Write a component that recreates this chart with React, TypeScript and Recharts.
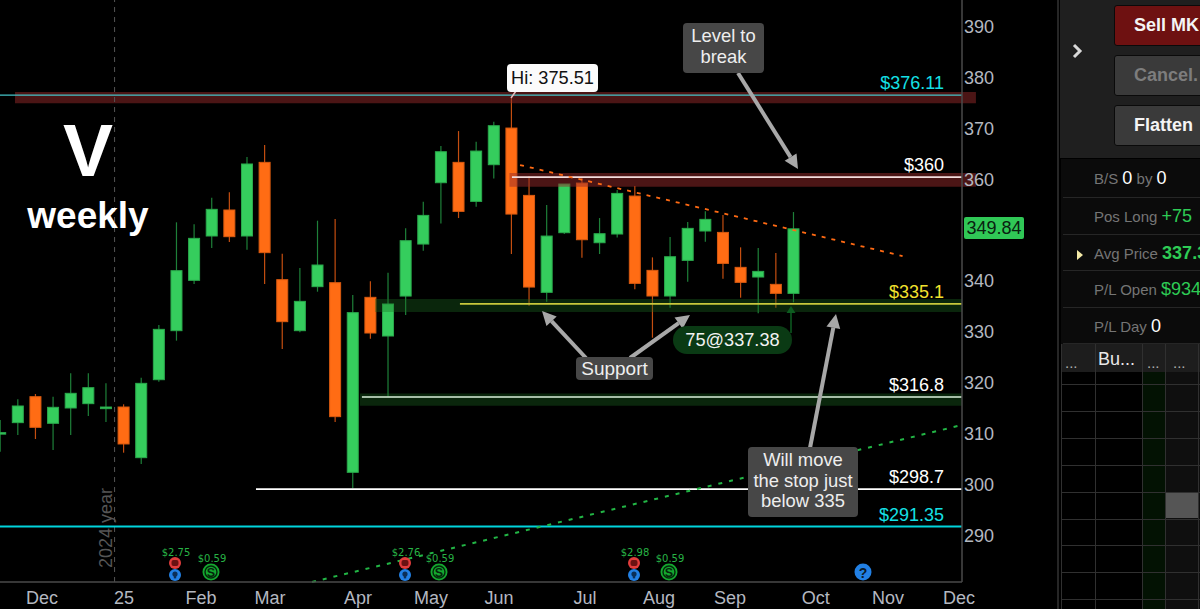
import React from "react";
import { ComposedChart, Bar, XAxis, YAxis, ReferenceLine, ReferenceArea } from "recharts";

// Weekly OHLC, one value per week (index = week position on the chart)
const opens = [309.5,311.76,316.86,311.63,314.64,315.49,314.51,314.83,304.88,320.2,329.83,339.72,348.43,353.54,348.43,362.9,339.85,329.83,338.48,339.26,302,336.38,328.78,336.63,346.85,358.9,362.9,355.23,362.44,369.64,356.41,337.36,349.08,358.83,347.11,348.82,356.28,341.68,336.64,343.64,349.41,349.14,342.27,340.37,338.93,337.16];
const highs = [312.28,316.34,317.39,316.86,321.45,321.45,319.48,315.36,320.6,330.94,351.12,350.72,355.96,357.01,363.95,366.31,344.96,342.14,351.44,351.77,336.84,339.52,341.23,349.93,355.17,366.1,369.05,366.96,370.88,375.51,360.21,354.51,358.64,359.95,351.96,357.46,358.25,344.23,348.23,351.17,353.27,352.55,346.2,346.07,345.08,353.14];
const lows = [306.06,309.33,308.55,306.39,309.33,313.07,311.89,305.86,303.64,319.81,327.87,339,346.07,347.25,345.75,339,326.23,329.5,337.49,311.89,298.86,328.26,316.9,332.9,345.54,350.91,351.96,354.19,359.75,344.89,334.74,335.52,348.82,344.17,344.89,348.16,337.95,328.45,334.34,339.45,347.31,340.04,336.31,333.23,334.34,335.39];
const closes = [309.8,315.03,310.84,314.77,317.52,318.63,314.83,307.57,319.48,330.09,341.62,347.97,353.67,348.3,362.58,345.16,331.6,335.59,342.73,312.94,333.37,329.37,335.07,347.51,352.48,364.99,353.27,365.12,370.1,352.74,338.4,348.42,358.64,347.7,348.88,356.8,339.12,336.64,344.36,349.93,351.7,343.05,339.32,341.48,337.16,349.84];

const monthLabels = ["Dec","25","Feb","Mar","Apr","May","Jun","Jul","Aug","Sep","Oct","Nov","Dec"];
const monthTicks = [2.38,7.03,11.4,15.31,20.31,24.45,28.3,33.18,37.38,41.41,46.28,50.37,54.4];
const priceTicks = [290,300,310,320,330,340,360,370,380,390];

const levelPrices = [376.11,360,335.1,316.8,298.7,291.35];
const levelLabels = ["$376.11","$360","$335.1","$316.8","$298.7","$291.35"];
const levelStarts = [0,29.04,26.09,20.53,14.52,0];
const levelLineColors = ["#45c4c8","#f2dcdc","#c9c83c","#dcf2dc","#ffffff","#00d4dc"];
const levelTextColors = ["#14e0e6","#ffffff","#f2e22e","#ffffff","#ffffff","#14e0e6"];
const levelWidths = [1.3,1.6,1.6,1.6,1.6,2];

const X_MIN = 0, X_MAX = 54.57, Y_MIN = 280.45, Y_MAX = 394.8;
const FONT = '"Liberation Sans", Arial, sans-serif';
const rows = opens.map((open, i) => ({ i, open, high: highs[i], low: lows[i], close: closes[i] }));

const Candle = (p: any) => {
  const { x, y, width, height, payload } = p;
  const k = height / (payload.high - payload.low || 1);
  const yO = y + (payload.high - payload.open) * k;
  const yC = y + (payload.high - payload.close) * k;
  const up = payload.close >= payload.open;
  const top = Math.min(yO, yC);
  const h = Math.max(Math.abs(yO - yC), 1.5);
  const cx = x + width / 2;
  return (
    <g>
      <line x1={cx} x2={cx} y1={y} y2={y + height} stroke={up ? "#1e8039" : "#c44e10"} strokeWidth={1.2} />
      <rect x={cx - 5.5} y={top} width={11} height={h} fill={up ? "#35cd5d" : "#ff6c14"} stroke={up ? "#2aa94c" : "#d95a10"} strokeWidth={1} />
    </g>
  );
};

const LevelShape = (color: string, text: string, textColor: string, w: number) => (p: any) => (
  <g>
    <line x1={p.x1} x2={p.x2} y1={p.y1} y2={p.y2} stroke={color} strokeWidth={w} />
    <text x={944} y={p.y1 - 6} textAnchor="end" fontSize={18} fontFamily={FONT} fill={textColor}>{text}</text>
  </g>
);

const Arrow = ({ a, b }: { a: number[]; b: number[] }) => {
  const [x1, y1] = a, [x2, y2] = b;
  const len = Math.hypot(x2 - x1, y2 - y1);
  const ux = (x2 - x1) / len, uy = (y2 - y1) / len;
  const bx = x2 - ux * 14, by = y2 - uy * 14;
  return (
    <g>
      <line x1={x1} y1={y1} x2={bx} y2={by} stroke="#a8a8a8" strokeWidth={4} />
      <polygon points={`${x2},${y2} ${bx - uy * 7},${by + ux * 7} ${bx + uy * 7},${by - ux * 7}`} fill="#a8a8a8" />
    </g>
  );
};

const Note = ({ l, t, w, h, children }: any) => (
  <div style={{ position: "absolute", left: l, top: t, width: w, height: h, background: "#474747", borderRadius: 4, color: "#eeeeee", fontSize: 18.4, lineHeight: "20.5px", textAlign: "center", fontFamily: FONT, boxSizing: "border-box", paddingTop: 3 }}>{children}</div>
);

const Earnings = ({ x, label }: { x: number; label: string }) => (
  <g>
    <text x={x + 1} y={556} textAnchor="middle" fontSize={10} fontFamily="'DejaVu Sans', sans-serif" fill="#27b345">{label}</text>
    <circle cx={x} cy={563} r={6} fill="#e23c3c" />
    <rect x={x - 3.5} y={560} width={7} height={6} rx={2} fill="#6b1212" />
    <circle cx={x} cy={575} r={6} fill="#2280e4" />
    <circle cx={x} cy={574} r={2.6} fill="#0b2f57" />
    <rect x={x - 1.2} y={576} width={2.4} height={2.4} fill="#0b2f57" />
  </g>
);

const Dividend = ({ x, label }: { x: number; label: string }) => (
  <g>
    <text x={x + 1} y={562} textAnchor="middle" fontSize={10} fontFamily="'DejaVu Sans', sans-serif" fill="#27b345">{label}</text>
    <circle cx={x} cy={572} r={8.5} fill="#14a82f" />
    <circle cx={x} cy={572} r={6} fill="none" stroke="#04260b" strokeWidth={1.4} />
    <text x={x} y={576.5} textAnchor="middle" fontSize={12.5} fontWeight="bold" fontFamily={FONT} fill="#04260b">S</text>
  </g>
);

const Overlay = () => (
  <>
    <svg width={1200} height={609} style={{ position: "absolute", left: 0, top: 0, pointerEvents: "none" }}>
      <text x={88} y={176} textAnchor="middle" fontSize={75} fontWeight="bold" fontFamily={FONT} fill="#ffffff">V</text>
      <text x={88} y={228} textAnchor="middle" fontSize={37} fontWeight="bold" fontFamily={FONT} fill="#ffffff">weekly</text>
      <text transform="translate(112,568) rotate(-90)" fontSize={18} fontFamily={FONT} fill="#555555">2024 year</text>
      <Arrow a={[738, 73]} b={[798, 169]} />
      <Arrow a={[586, 358]} b={[542, 311]} />
      <Arrow a={[630, 358]} b={[690, 315]} />
      <Arrow a={[810, 448]} b={[836, 314]} />
      <line x1={791} x2={791} y1={312} y2={333} stroke="#0d5c20" strokeWidth={1.5} />
      <polygon points="791,306 795.5,313 786.5,313" fill="#0d5c20" />
      <line x1={516} y1={91} x2={511} y2={98} stroke="#e6bcbc" strokeWidth={1.5} />
      <Earnings x={175} label="$2.75" />
      <Dividend x={211} label="$0.59" />
      <Earnings x={405} label="$2.76" />
      <Dividend x={439} label="$0.59" />
      <Earnings x={634} label="$2.98" />
      <Dividend x={669} label="$0.59" />
      <circle cx={863} cy={572} r={8.5} fill="#2280e4" />
      <text x={863} y={577.5} textAnchor="middle" fontSize={14} fontWeight="bold" fontFamily={FONT} fill="#0a1a2a">?</text>
    </svg>
    <div style={{ position: "absolute", left: 507, top: 64, width: 91, height: 28, background: "#fbfbfb", borderRadius: 4, color: "#111", fontFamily: FONT, fontSize: 18.2, lineHeight: "28px", textAlign: "center" }}>Hi: 375.51</div>
    <Note l={683} t={23} w={81} h={50}>Level to<br />break</Note>
    <Note l={748} t={447} w={110} h={70}>Will move<br />the stop just<br />below 335</Note>
    <div style={{ position: "absolute", left: 576, top: 357, width: 77, height: 23, background: "#474747", borderRadius: 4, color: "#eeeeee", fontFamily: FONT, fontSize: 19, lineHeight: "23px", textAlign: "center" }}>Support</div>
    <div style={{ position: "absolute", left: 673, top: 326, width: 119, height: 28, background: "#0a3a14", borderRadius: 14, color: "#f2f2f2", fontFamily: FONT, fontSize: 18.2, lineHeight: "28px", textAlign: "center" }}>75@337.38</div>
    <div style={{ position: "absolute", left: 964, top: 217, width: 60, height: 22, background: "#30c756", borderRadius: 2, color: "#0a2010", fontFamily: FONT, fontSize: 18, lineHeight: "22px", textAlign: "center" }}>349.84</div>
  </>
);

const Btn = ({ t, bg, c, text }: any) => (
  <div style={{ position: "absolute", left: 1114, top: t, width: 120, height: 41, background: bg, border: "1px solid #0a0a0a", boxSizing: "border-box", borderRadius: 3, color: c, fontFamily: FONT, fontWeight: "bold", fontSize: 18, lineHeight: "39px", paddingLeft: 19 }}>{text}</div>
);

const Stat = ({ y, label, value, vc, bold, extra }: any) => (
  <div style={{ position: "absolute", left: 1094, top: y, whiteSpace: "nowrap", height: 36, lineHeight: "36px", fontFamily: FONT, fontSize: 15, color: "#757575" }}>
    {label} <span style={{ color: vc, fontSize: 18, fontWeight: bold ? "bold" : "normal" }}>{value}</span>{extra}
  </div>
);

const rowLines = [384, 411, 438, 465, 492, 519, 545, 572, 599];
const columnLines = [1061, 1095, 1142, 1165, 1198];

const Panel = () => (
  <div style={{ position: "absolute", left: 0, top: 0, width: 1200, height: 609, overflow: "hidden", pointerEvents: "none" }}>
    <div style={{ position: "absolute", left: 1057, top: 0, width: 2, height: 609, background: "#262626" }} />
    <div style={{ position: "absolute", left: 1060, top: 0, width: 140, height: 158, background: "#1f1f1f" }} />
    <svg width={20} height={20} style={{ position: "absolute", left: 1068, top: 41 }}>
      <polyline points="6,4 12,10 6,16" fill="none" stroke="#d8d8d8" strokeWidth={3} />
    </svg>
    <Btn t={5} bg="#6e1111" c="#f4f4f4" text="Sell MK" />
    <Btn t={55} bg="#3a3a3a" c="#7d7d7d" text="Cancel." />
    <Btn t={105} bg="#3a3a3a" c="#f4f4f4" text="Flatten" />
    <div style={{ position: "absolute", left: 1061, top: 159, width: 139, height: 185, background: "#0b0b0b" }} />
    {[197, 234, 270, 307, 343].map((y) => (
      <div key={y} style={{ position: "absolute", left: 1063, top: y, width: 137, height: 1, background: "#262626" }} />
    ))}
    <Stat y={160} label="B/S" value="0" vc="#ffffff" extra={<> by <span style={{ color: "#fff", fontSize: 18 }}>0</span></>} />
    <Stat y={198} label="Pos Long" value="+75" vc="#2ecc55" />
    <Stat y={235} label="Avg Price" value="337.3" vc="#2ecc55" bold />
    <Stat y={271} label="P/L Open" value="$934" vc="#2ecc55" />
    <Stat y={308} label="P/L Day" value="0" vc="#ffffff" />
    <svg width={10} height={12} style={{ position: "absolute", left: 1076, top: 249 }}>
      <polygon points="1,1 7,6 1,11" fill="#f3e9a6" />
    </svg>
    <div style={{ position: "absolute", left: 1061, top: 344, width: 139, height: 28, background: "#1d1d1d" }} />
    <div style={{ position: "absolute", left: 1142, top: 372, width: 23, height: 237, background: "#031203" }} />
    <div style={{ position: "absolute", left: 1165, top: 372, width: 35, height: 237, background: "#0f0f0f" }} />
    <div style={{ position: "absolute", left: 1166, top: 493, width: 32, height: 25, background: "#555555" }} />
    {rowLines.map((y) => (
      <div key={y} style={{ position: "absolute", left: 1061, top: y, width: 139, height: 1, background: "#303030" }} />
    ))}
    {columnLines.map((x) => (
      <div key={x} style={{ position: "absolute", left: x, top: 344, width: 1, height: 265, background: "#303030" }} />
    ))}
    {[["...", 1065], ["Bu...", 1098], ["...", 1147], ["...", 1173]].map(([s, x]) => (
      <div key={String(x)} style={{ position: "absolute", left: x as number, top: s === "..." ? 353 : 349, fontFamily: FONT, fontSize: s === "..." ? 15 : 18, lineHeight: "20px", color: s === "..." ? "#b0b0b0" : "#e8e8e8" }}>{s}</div>
    ))}
  </div>
);

export default function App() {
  return (
    <div style={{ position: "fixed", left: 0, top: 0, width: 1200, height: 609, background: "#000", overflow: "hidden" }}>
      <ComposedChart width={1200} height={609} data={rows} margin={{ top: 0, right: 0, bottom: 0, left: 0 }}>
        <XAxis
          type="number"
          dataKey="i"
          domain={[X_MIN, X_MAX]}
          ticks={monthTicks}
          interval={0}
          height={27}
          tickLine={false}
          axisLine={{ stroke: "#4a4a4a", strokeWidth: 1.5 }}
          tick={{ fill: "#b4b8c0", fontSize: 18, fontFamily: FONT }}
          tickMargin={3}
          tickFormatter={(v: number) => monthLabels[monthTicks.indexOf(v)]}
        />
        <YAxis
          orientation="right"
          type="number"
          domain={[Y_MIN, Y_MAX]}
          ticks={priceTicks}
          interval={0}
          width={238}
          tickLine={false}
          tickSize={0}
          axisLine={{ stroke: "#4a4a4a", strokeWidth: 1.5 }}
          tick={{ fill: "#b4b8c0", fontSize: 18, fontFamily: FONT, dy: 2 }}
          tickMargin={2}
        />
        <Bar dataKey={(d: any) => [d.low, d.high]} barSize={12} shape={Candle} isAnimationActive={false} />
        <ReferenceArea zIndex={350} x1={0.85} x2={55.36} y1={374.5} y2={376.72} fill="#962a2a" fillOpacity={0.5} stroke="none" ifOverflow="visible" />
        <ReferenceArea zIndex={350} x1={28.9} x2={55.36} y1={358.11} y2={360.8} fill="#962a2a" fillOpacity={0.5} stroke="none" ifOverflow="visible" />
        <ReferenceArea zIndex={350} x1={21.27} x2={X_MAX} y1={333.5} y2={336.05} fill="#1e6e23" fillOpacity={0.35} stroke="none" ifOverflow="visible" />
        <ReferenceArea zIndex={350} x1={20.42} x2={X_MAX} y1={315.09} y2={317.5} fill="#1e6e23" fillOpacity={0.35} stroke="none" ifOverflow="visible" />
        <ReferenceLine x={6.5} stroke="#555555" strokeDasharray="5 5" />
        {levelPrices.map((p, k) => (
          <ReferenceLine
            key={p}
            segment={[{ x: levelStarts[k], y: p }, { x: X_MAX, y: p }]}
            shape={LevelShape(levelLineColors[k], levelLabels[k], levelTextColors[k], levelWidths[k])}
            ifOverflow="visible"
          />
        ))}
        <ReferenceLine segment={[{ x: 29.5, y: 362.38 }, { x: 51.2, y: 344.5 }]} stroke="#ff6a13" strokeWidth={1.8} strokeDasharray="4 6" ifOverflow="visible" />
        <ReferenceLine segment={[{ x: 17.7, y: Y_MIN }, { x: X_MAX, y: 311.3 }]} stroke="#22b545" strokeWidth={2} strokeDasharray="4 7" ifOverflow="visible" />
      </ComposedChart>
      <Overlay />
      <Panel />
    </div>
  );
}
